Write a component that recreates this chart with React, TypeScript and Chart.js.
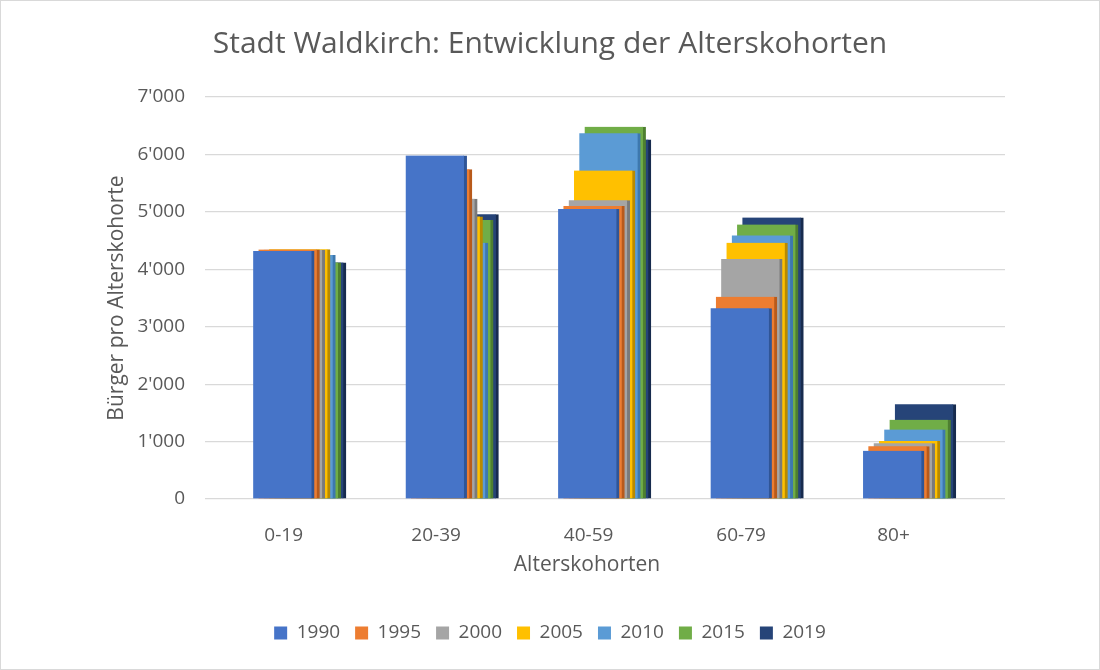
import React, { useEffect, useRef } from 'react';
import { Chart, registerables } from 'chart.js';

Chart.register(...registerables);

const categories = ['0-19', '20-39', '40-59', '60-79', '80+'];
const seriesNames = ['1990', '1995', '2000', '2005', '2010', '2015', '2019'];
const v1990 = [4320, 5980, 5050, 3320, 840];
const v1995 = [4345, 5740, 5100, 3520, 920];
const v2000 = [4340, 5230, 5200, 4180, 970];
const v2005 = [4350, 4920, 5720, 4460, 1010];
const v2010 = [4250, 4460, 6370, 4590, 1210];
const v2015 = [4120, 4860, 6480, 4780, 1380];
const v2019 = [4120, 4960, 6260, 4900, 1650];
const seriesValues = [v1990, v1995, v2000, v2005, v2010, v2015, v2019];

const colors = ['#4674C8', '#ED7D31', '#A5A5A5', '#FFC000', '#5B9BD5', '#70AD47', '#264478'];
const sideColors = ['#2F5597', '#B85A1B', '#7A7A7A', '#B88A00', '#3D78AE', '#4E7F30', '#172B4E'];

const titleText = 'Stadt Waldkirch: Entwicklung der Alterskohorten';
const yTitleText = 'Bürger pro Alterskohorte';
const xTitleText = 'Alterskohorten';

const FONT = "'Open Sans', 'DejaVu Sans', sans-serif";
const TEXT = '#595959';
const W = 1098;
const H = 668;
const DEPTH_STEP = 5.3;

const fmt = (v: number) =>
  v >= 1000 ? `${Math.floor(v / 1000)}'${String(v % 1000).padStart(3, '0')}` : String(v);

const depthPlugin = {
  id: 'depthShift',
  afterDatasetsUpdate(chart: any) {
    chart.data.datasets.forEach((_: any, i: number) => {
      const meta = chart.getDatasetMeta(i);
      meta.data.forEach((el: any) => {
        el.x += i * DEPTH_STEP;
      });
    });
  },
};

const xTitlePlugin = {
  id: 'xTitle',
  afterDraw(chart: any) {
    const ctx = chart.ctx;
    ctx.save();
    ctx.font = `21px ${FONT}`;
    ctx.fillStyle = TEXT;
    ctx.textAlign = 'center';
    ctx.textBaseline = 'middle';
    ctx.fillText(xTitleText, 586, 564);
    ctx.restore();
  },
};

export default function App() {
  const ref = useRef<HTMLCanvasElement>(null);
  useEffect(() => {
    if (!ref.current) return;
    const chart = new Chart(ref.current, {
      type: 'bar',
      data: {
        datasets: seriesNames.map((name, s) => ({
          label: name,
          data: categories.map((_, i) => ({ x: i, y: seriesValues[s][i] })),
          backgroundColor: colors[s],
          borderColor: sideColors[s],
          borderWidth: { top: 0, right: 3, bottom: 0, left: 0 },
          borderSkipped: false,
          barThickness: 61,
          grouped: false,
        })),
      },
      options: {
        responsive: false,
        animation: false,
        layout: { padding: { left: 94, right: 94, top: 0, bottom: 16.5 } },
        plugins: {
          tooltip: { enabled: false },
          title: {
            display: true,
            text: titleText,
            color: TEXT,
            font: { family: FONT, size: 30, weight: 'normal' },
            padding: { top: 25, bottom: 35 },
          },
          legend: {
            position: 'bottom',
            labels: {
              boxWidth: 13,
              boxHeight: 13,
              padding: 15,
              color: TEXT,
              font: { family: FONT, size: 19 },
              generateLabels: (c: any) =>
                (Chart.defaults.plugins.legend.labels as any)
                  .generateLabels(c)
                  .map((l: any) => ({ ...l, lineWidth: 0, strokeStyle: l.fillStyle })),
            },
          },
        },
        scales: {
          x: {
            type: 'linear',
            offset: false,
            min: -0.516,
            max: 4.731,
            grid: { display: false },
            border: { display: false },
            afterBuildTicks: (scale: any) => {
              scale.ticks = categories.map((_, i) => ({ value: i }));
            },
            afterFit: (scale: any) => {
              scale.height = 109.5;
            },
            ticks: {
              autoSkip: false,
              maxRotation: 0,
              padding: 17,
              color: TEXT,
              font: { family: FONT, size: 19 },
              callback: (v: any) => categories[v] ?? '',
            },
          },
          y: {
            min: 0,
            max: 7000,
            afterFit: (scale: any) => {
              scale.width = 110;
            },
            grid: { color: '#d9d9d9', lineWidth: 1.2, drawTicks: false },
            border: { display: false },
            ticks: {
              stepSize: 1000,
              padding: 20,
              color: TEXT,
              font: { family: FONT, size: 19 },
              callback: (v: any) => fmt(Number(v)),
            },
            title: {
              display: true,
              text: yTitleText,
              color: TEXT,
              font: { family: FONT, size: 21 },
              padding: { top: 9, bottom: 0 },
            },
          },
        },
      },
      plugins: [depthPlugin, xTitlePlugin],
    } as any);
    return () => chart.destroy();
  }, []);

  return (
    <div
      style={{
        position: 'absolute',
        left: 0,
        top: 0,
        width: W,
        height: H,
        border: '1px solid #d9d9d9',
        background: '#fff',
      }}
    >
      <canvas ref={ref} width={W} height={H} style={{ display: 'block' }} />
    </div>
  );
}
